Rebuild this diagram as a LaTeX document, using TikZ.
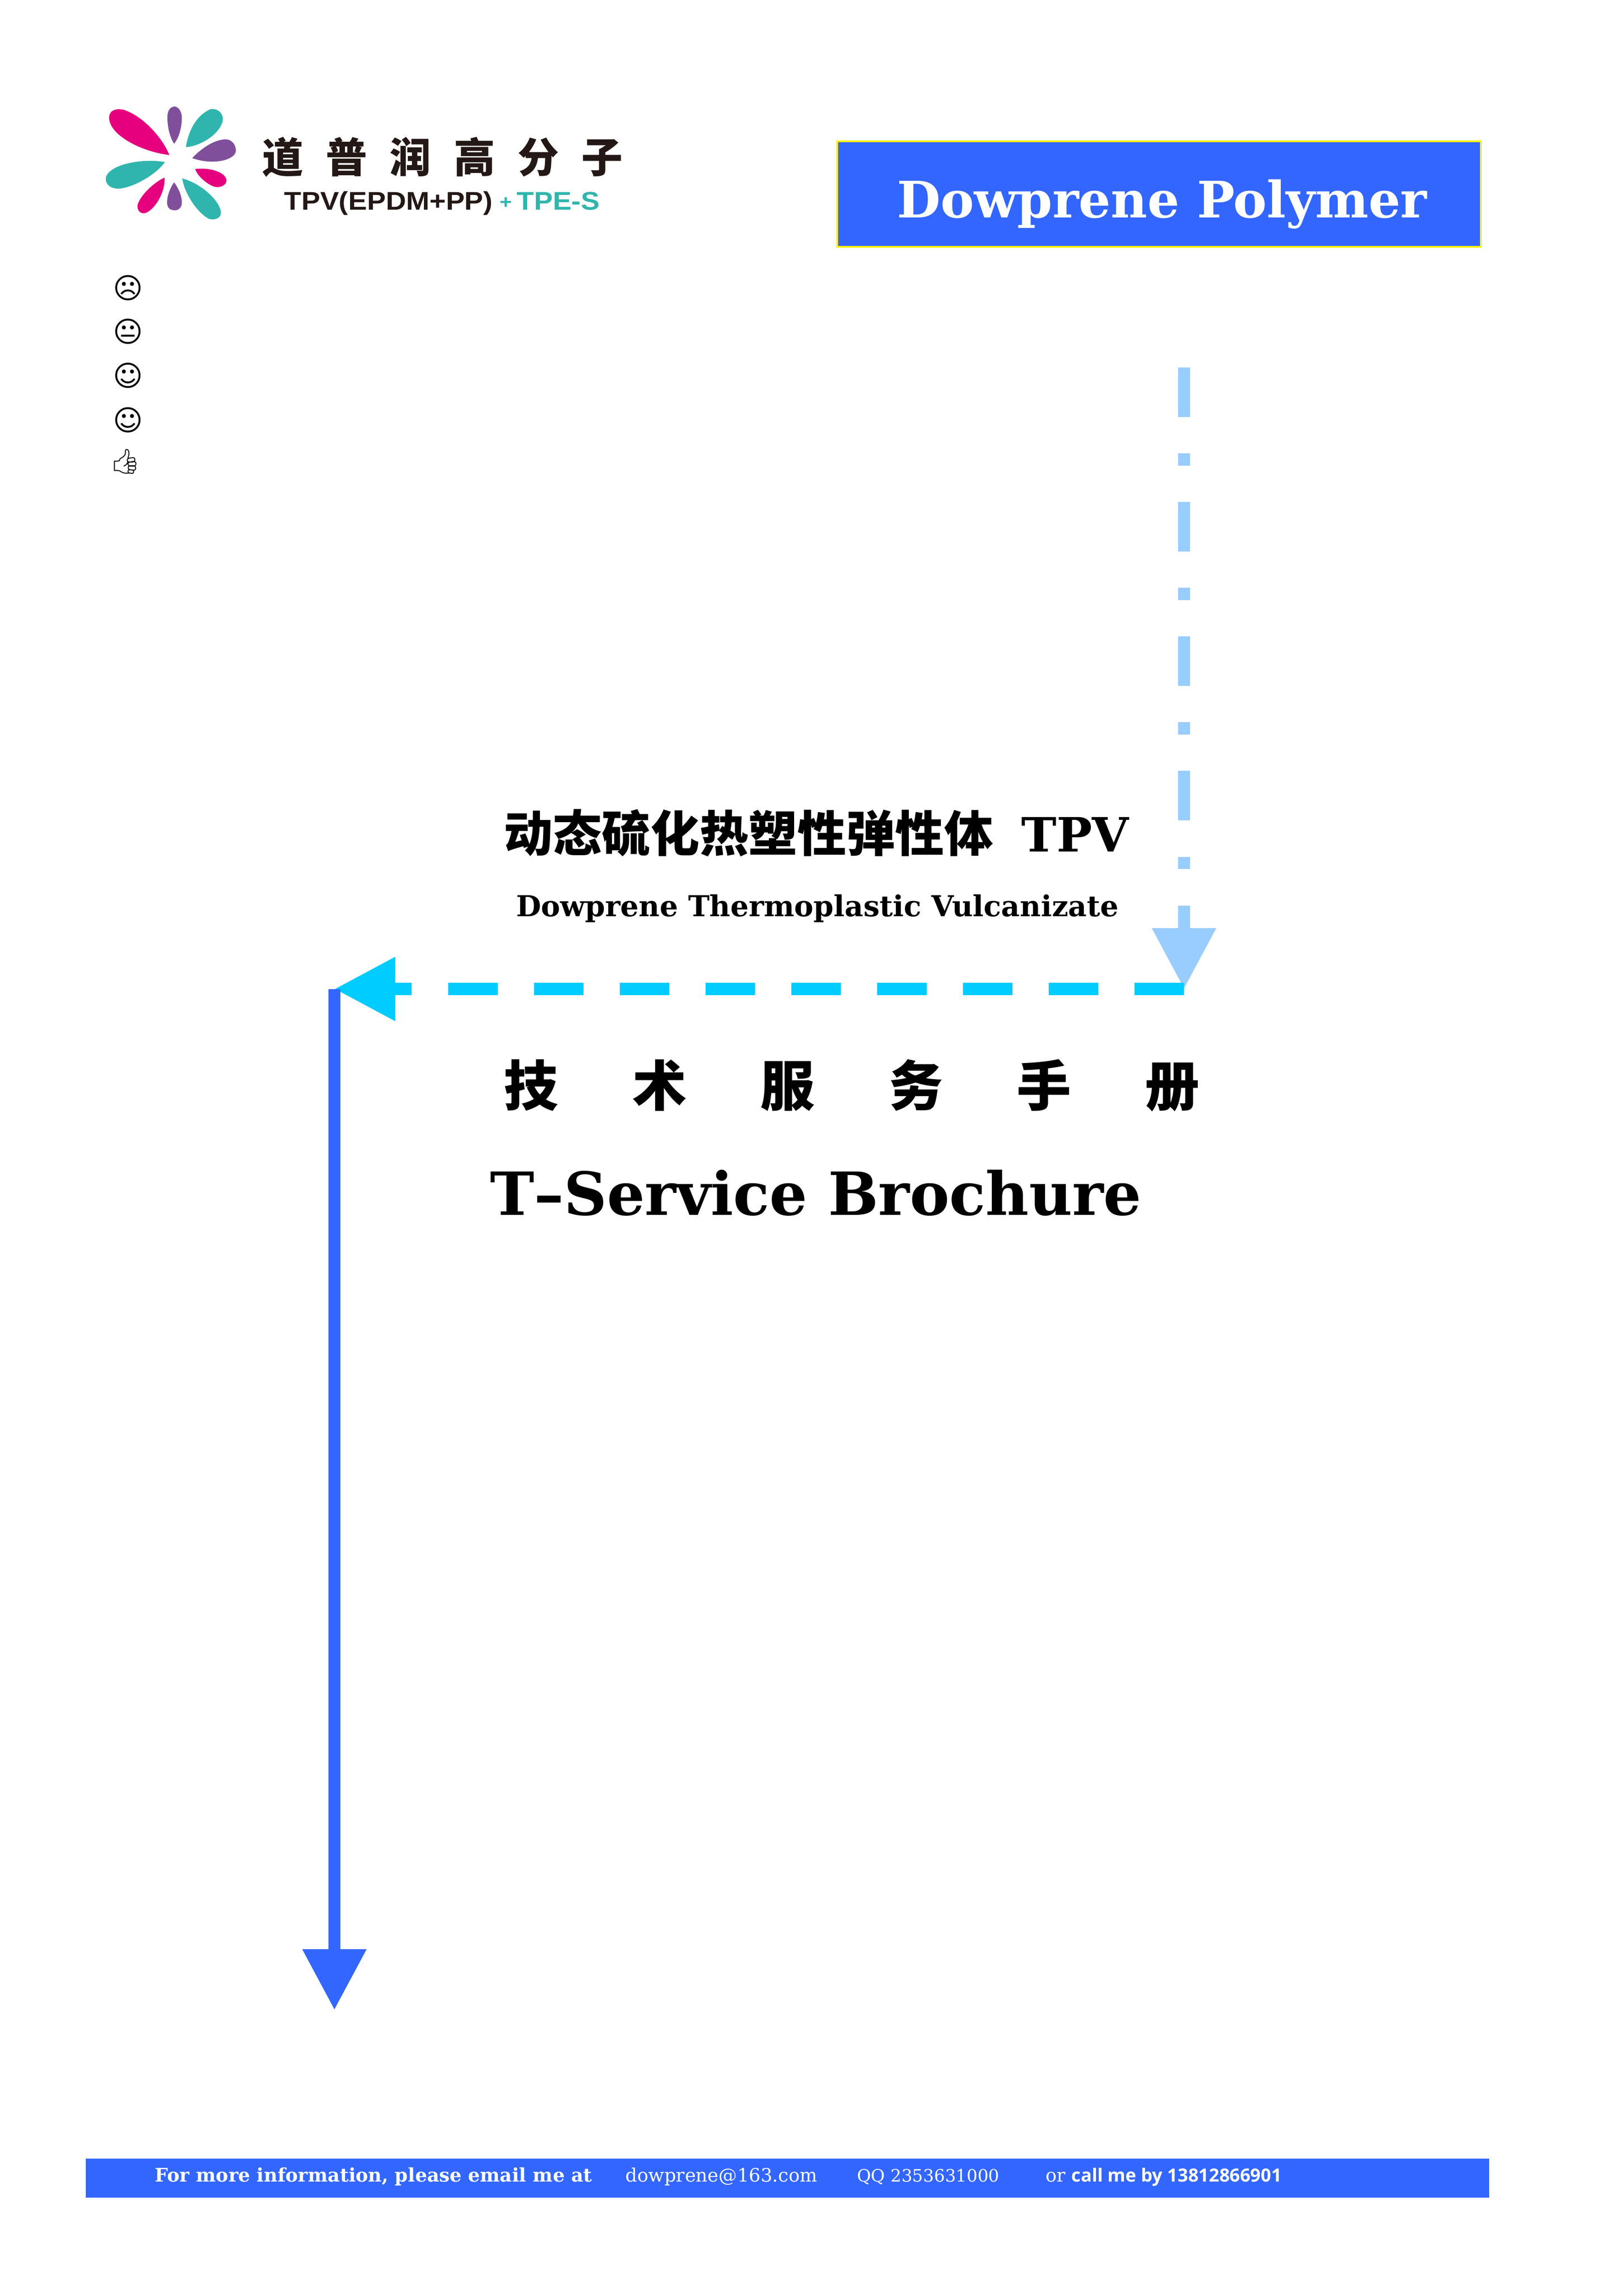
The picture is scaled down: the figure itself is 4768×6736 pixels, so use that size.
\documentclass[tikz,border=0pt]{standalone}
\usepackage{fontspec}
\usepackage{xcolor}
\usetikzlibrary{arrows.meta}
\setmainfont{DejaVu Serif}
\newfontfamily\cjk{Noto Sans CJK SC}
\newfontfamily\logosans[FakeStretch=1.1]{Liberation Sans}
\newfontfamily\facefont{DejaVu Sans}
\newfontfamily\emojifont{Noto Emoji}
\newfontfamily\callfont{Open Sans}
\definecolor{DPblue}{HTML}{3366FF}
\definecolor{DPlight}{HTML}{99CCFF}
\definecolor{DPcyan}{HTML}{00CCFF}
\definecolor{DPpink}{HTML}{E6007E}
\definecolor{DPpurple}{HTML}{804F9C}
\definecolor{DPteal}{HTML}{2FB5AD}
\definecolor{DPink}{HTML}{231815}
\tikzset{
FlecheBleue/.style={
 line width=4.51pt,
 -{Triangle[length=22.4pt,width=22.4pt]}
 },
Titre/.style={
 anchor=base west,
 inner sep=0pt,
 outer sep=0pt
 },
Pied/.style={
 Titre,
 text=white,
 font=\fontsize{6.8}{9}\selectfont
 },
Visage/.style={
 inner sep=0pt,
 font=\fontsize{10.6}{12}\selectfont\facefont
 }
}
\begin{document}
\begin{tikzpicture}[x=0.12532pt,y=-0.12532pt]
\useasboundingbox (0,0) rectangle (4768,6736);
% logo
\begin{scope}[shift={(250,250)},xscale=1.0841,yscale=0.7653]
\fill[DPpink] (228,268) .. controls (150,255) and (65,190) .. (65,125) .. controls (65,95) and (85,88) .. (105,95) .. controls (150,115) and (205,190) .. (228,268);
\fill[DPpurple] (241,225) .. controls (225,190) and (222,140) .. (223,115) .. controls (225,90) and (235,82) .. (243,82) .. controls (255,85) and (262,105) .. (262,125) .. controls (262,160) and (255,200) .. (241,225);
\fill[DPteal] (273,238) .. controls (278,190) and (295,120) .. (340,92) .. controls (360,88) and (375,110) .. (373,135) .. controls (365,190) and (310,235) .. (273,238);
\fill[DPpurple] (290,280) .. controls (310,250) and (345,210) .. (380,208) .. controls (400,208) and (410,235) .. (408,255) .. controls (405,285) and (350,310) .. (290,280);
\fill[DPpink] (298,322) .. controls (330,315) and (380,330) .. (383,365) .. controls (383,385) and (365,395) .. (350,390) .. controls (330,380) and (305,350) .. (298,322);
\fill[DPteal] (263,358) .. controls (310,375) and (365,440) .. (368,490) .. controls (368,510) and (350,520) .. (335,513) .. controls (305,490) and (270,420) .. (263,358);
\fill[DPpurple] (241,373) .. controls (255,400) and (263,430) .. (262,455) .. controls (260,475) and (248,482) .. (241,480) .. controls (230,480) and (222,470) .. (222,450) .. controls (222,425) and (230,395) .. (241,373);
\fill[DPpink] (215,355) .. controls (218,400) and (195,470) .. (165,490) .. controls (150,497) and (140,480) .. (142,460) .. controls (150,420) and (190,370) .. (215,355);
\fill[DPteal] (216,295) .. controls (195,340) and (130,395) .. (90,397) .. controls (65,397) and (52,375) .. (57,350) .. controls (70,305) and (150,280) .. (216,295);
\end{scope}
\node[Titre,text=DPink,font=\fontsize{15.2}{18}\selectfont\cjk\bfseries] (marque) at (770,507) {道\hspace{8.3pt}普\hspace{8.3pt}润\hspace{8.3pt}高\hspace{8.3pt}分\hspace{8.3pt}子};
\node[Titre,text=DPink,font=\fontsize{9.4}{11}\selectfont\logosans\bfseries] (tpvepdm) at (835,617) {TPV(EPDM+PP)};
\node[Titre,text=DPteal,font=\fontsize{7}{8}\selectfont\logosans\bfseries] (plus) at (1468,612) {+};
\node[Titre,text=DPteal,font=\fontsize{9.4}{11}\selectfont\logosans\bfseries] (tpes) at (1518,617) {TPE-S};
% faces
\node[Visage] (triste) at (376,845) {☹};
\node[Visage] (neutre) at (376,974) {😐};
\node[Visage] (sourire) at (376,1103) {☺};
\node[Visage] (content) at (376,1234) {☺};
\node[Visage,font=\fontsize{9}{11}\selectfont\emojifont] (pouce) at (368,1356) {👍};
% banner
\node[draw=yellow,fill=DPblue,line width=0.7pt,minimum width=236.9pt,minimum height=38.9pt,inner sep=0pt] (bandeau) at (3404,570) {};
\node[Titre,text=white,font=\fontsize{18.5}{22}\selectfont\bfseries] (dowprene) at (2634,639) {Dowprene Polymer};
% arrows
\coordinate (depart) at (3477,1079);
\coordinate (coin) at (3477,2904);
\coordinate (retour) at (982,2904);
\coordinate (fin) at (982,5902);
\draw[FlecheBleue,DPlight,dash pattern=on 18.17pt off 13.41pt on 4.51pt off 13.41pt] (depart) -- (coin);
\draw[FlecheBleue,DPcyan,dash pattern=on 18.17pt off 13.41pt] (coin) -- (retour);
\draw[FlecheBleue,DPblue] (retour) -- (fin);
% titles
\node[Titre,font=\fontsize{17.4}{22}\selectfont\bfseries] (titre) at (1480,2501) {{\cjk\fontsize{18}{22}\selectfont 动态硫化热塑性弹性体}\hspace{10.4pt}TPV};
\node[Titre,font=\fontsize{10.6}{13}\selectfont\bfseries] (soustitre) at (1516,2691) {Dowprene Thermoplastic Vulcanizate};
\node[Titre,font=\fontsize{20}{24}\selectfont\cjk\bfseries] (manuel) at (1480,3247) {技\hspace{27.2pt}术\hspace{27.2pt}服\hspace{27.2pt}务\hspace{27.2pt}手\hspace{27.2pt}册};
\node[Titre,font=\fontsize{21.9}{26}\selectfont\bfseries] (brochure) at (1439,3568) {T--Service Brochure};
% footer
\node[fill=DPblue,minimum width=516.4pt,minimum height=14.29pt,inner sep=0pt] (pied) at (2312.5,6396) {};
\node[Pied,font=\fontsize{6.9}{9}\selectfont\bfseries] (info) at (455,6406) {For more information, please email me at};
\node[Pied] (courriel) at (1837,6406) {dowprene@163.com};
\node[Pied,font=\fontsize{6.3}{9}\selectfont] (qq) at (2517,6406) {QQ 2353631000};
\node[Pied] (appel) at (3071,6406) {or {\callfont\bfseries\fontsize{6.7}{9}\selectfont call me by 13812866901}};
\end{tikzpicture}
\end{document}
